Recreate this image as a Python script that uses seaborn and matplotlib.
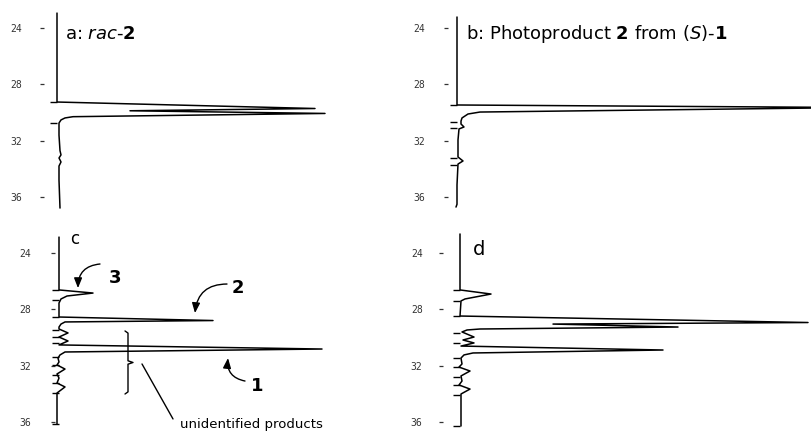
import matplotlib
matplotlib.use("Agg")
import matplotlib.pyplot as plt
import numpy as np
import pandas as pd
import seaborn as sns

# Chromatogram traces: retention time (min) vs detector response (arb. units)
a_time = [22.94, 29.25, 29.71, 29.87, 30.06, 30.29, 30.38, 30.52, 30.74, 31.60,
          32.70, 33.00, 33.22, 33.50, 33.79, 34.80, 36.77]
a_signal = [0, 0, 258, 73, 268, 16, 8, 4, 2, 2, 3, 4, 2, 4, 2, 2, 3]
a_events = [29.25, 30.74]

b_time = [23.22, 29.46, 29.64, 29.96, 30.10, 30.38, 30.60, 30.81, 31.02, 31.16,
          31.94, 33.15, 33.43, 33.65, 35.13, 36.50, 36.70]
b_signal = [0, 0, 400, 23, 11, 5, 4, 4, 7, 2, 1, 1, 6, 1, 0, 0, -1]
b_events = [29.46, 30.67, 31.09, 33.22, 33.72]

c_time = [22.87, 26.62, 26.84, 27.05, 27.26, 27.55, 28.54, 28.79, 28.89, 29.04,
          29.25, 29.39, 29.67, 29.96, 30.24, 30.52, 30.81, 31.02, 31.23, 31.45,
          31.73, 31.94, 32.23, 32.58, 32.87, 33.22, 33.50, 33.93, 36.13]
c_signal = [0, 0, 34, 8, 2, 0, 0, 154, 6, 2,
            0, 0, 9, 0, 9, 0, 263, 6, 1, -1,
            0, -2, 6, -2, 0, -2, 6, -2, -2]
c_events = [26.62, 27.33, 28.54, 29.46, 29.96, 30.38, 31.38, 31.94, 32.65,
            33.22, 33.93, 36.13]

d_time = [22.65, 26.62, 26.91, 27.26, 27.40, 28.47, 28.93, 29.04, 29.25, 29.39,
          29.46, 29.60, 29.96, 30.17, 30.38, 30.60, 30.88, 31.09, 31.23, 31.45,
          31.87, 32.09, 32.37, 32.72, 33.08, 33.36, 33.65, 34.00, 36.27]
d_signal = [0, 0, 31, 5, 1, 0, 348, 93, 218, 20,
            7, 2, 14, 3, 14, 1, 203, 13, 4, 1,
            2, -1, 10, 1, 2, -1, 10, 1, 1]
d_events = [26.62, 27.38, 28.45, 29.67, 30.38, 31.45, 32.09, 32.79, 33.36,
            34.07, 36.27]

tick_times = [24, 28, 32, 36]

sns.set_theme(style="white")
plt.rcParams["font.family"] = ["DejaVu Sans"]
plt.rcParams["text.color"] = "black"
plt.rcParams["mathtext.fontset"] = "custom"
plt.rcParams["mathtext.rm"] = "DejaVu Sans"
plt.rcParams["mathtext.it"] = "DejaVu Sans:italic"
plt.rcParams["mathtext.bf"] = "DejaVu Sans:bold"

W, H = 812, 432
PX_PER_MIN = 14.1
fig = plt.figure(figsize=(W / 100, H / 100), dpi=100)


def make_panel(left, right, top, bottom, base, y24, pad):
    ax = fig.add_axes([left / W, 1 - bottom / H, (right - left) / W, (bottom - top) / H])
    ax.set_xlim(left - base, right - base)
    ax.set_ylim(24 + (bottom - y24) / PX_PER_MIN, 24 + (top - y24) / PX_PER_MIN)
    ax.set_xticks([])
    ax.set_yticks(tick_times)
    ax.set_yticklabels([str(t) for t in tick_times])
    ax.tick_params(axis="y", left=True, length=3.2, width=0.9, pad=pad,
                   labelsize=7, colors="#333333")
    for lbl in ax.get_yticklabels():
        lbl.set_family("DejaVu Sans Mono")
    sns.despine(ax=ax, left=True, bottom=True)
    ax.patch.set_alpha(0)
    return ax


def draw_trace(ax, time, signal, events):
    df = pd.DataFrame({"time": time, "signal": signal})
    sns.lineplot(data=df, x="signal", y="time", sort=False, estimator=None,
                 orient="y", color="black", lw=1.1, ax=ax)
    ax.hlines(events, -7, 0, color="black", lw=1.0, clip_on=False)
    ax.set_xlabel("")
    ax.set_ylabel("")


ax_a = make_panel(44, 406, 0, 216, 57, 28, 12.5)
ax_b = make_panel(448, 812, 0, 216, 457, 28, 13)
ax_c = make_panel(55, 406, 216, 432, 59, 253, 14)
ax_d = make_panel(443, 812, 216, 432, 460, 253, 11.5)

draw_trace(ax_a, a_time, a_signal, a_events)
draw_trace(ax_b, b_time, b_signal, b_events)
draw_trace(ax_c, c_time, c_signal, c_events)
draw_trace(ax_d, d_time, d_signal, d_events)

# Panel headings
ax_a.text(8, 24.43, r"a: $\mathit{rac}$-$\mathbf{2}$", fontsize=13, va="center", ha="left")
ax_b.text(9, 24.43, r"b: Photoproduct $\mathbf{2}$ from ($\mathit{S}$)-$\mathbf{1}$",
          fontsize=13, va="center", ha="left")
ax_c.text(11, 23.01, "c", fontsize=12, va="center", ha="left")
ax_d.text(13, 23.72, "d", fontsize=14, va="center", ha="left")

# Peak assignments in panel c
arrow_kw = dict(arrowstyle="-|>,head_length=0.5,head_width=0.2", color="black",
                lw=1.0, shrinkA=0, shrinkB=0)
ax_c.annotate("", xy=(19, 26.49), xytext=(41, 24.78),
              arrowprops=dict(connectionstyle="arc3,rad=0.45", **arrow_kw))
ax_c.annotate("", xy=(136, 28.26), xytext=(168, 26.20),
              arrowprops=dict(connectionstyle="arc3,rad=0.45", **arrow_kw))
ax_c.annotate("", xy=(169, 31.45), xytext=(186, 33.08),
              arrowprops=dict(connectionstyle="arc3,rad=-0.45", **arrow_kw))
for label, s, t in [("3", 56, 25.77), ("2", 179, 26.48), ("1", 198, 33.43)]:
    ax_c.text(s, t, label, fontsize=13, fontweight="bold", ha="center", va="center")

# Brace grouping the unidentified peaks
brace_x, brace_top, brace_bot = 69, 29.53, 34.0
brace_mid = (brace_top + brace_bot) / 2
ax_c.plot([brace_x - 3, brace_x, brace_x, brace_x + 5, brace_x, brace_x, brace_x - 3],
          [brace_top, brace_top + 0.15, brace_mid - 0.12, brace_mid, brace_mid + 0.12,
           brace_bot - 0.15, brace_bot], color="black", lw=1.0)
ax_c.plot([83, 114], [31.87, 35.77], color="black", lw=1.0)
ax_c.text(121, 36.42, "unidentified products", fontsize=9.5, ha="left",
          va="baseline", clip_on=False)

fig.savefig("out.png", dpi=100)
